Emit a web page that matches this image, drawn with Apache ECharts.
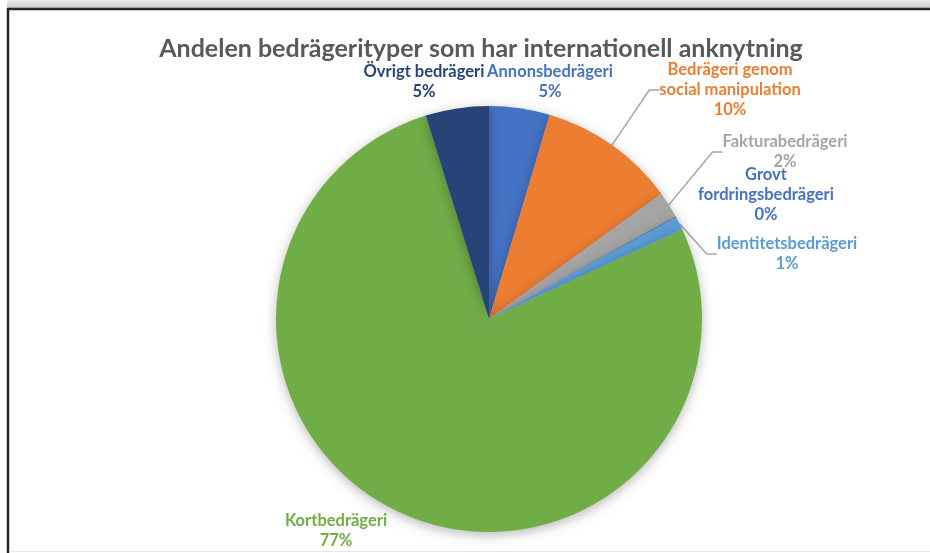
<!DOCTYPE html>
<html><head><meta charset="utf-8">
<script src="https://cdn.jsdelivr.net/npm/echarts@6/dist/echarts.min.js"></script>
<style>html,body{margin:0;padding:0;background:#fff}#c{width:930px;height:553px}</style>
</head><body><div id="c"></div>
<script>
const titleText = 'Andelen bedrägerityper som har internationell anknytning';
const categories = ['Annonsbedrägeri', 'Bedrägeri genom\nsocial manipulation', 'Fakturabedrägeri', 'Grovt\nfordringsbedrägeri', 'Identitetsbedrägeri', 'Kortbedrägeri', 'Övrigt bedrägeri'];
const values = [4.6, 10.4, 2.0, 0.1, 1.0, 77.1, 4.8];
const sliceColors = ['#4472C4', '#ED7D31', '#A5A5A5', '#4472C4', '#5B9BD5', '#70AD47', '#264478'];
const labelColors = ['#4472C4', '#ED7D31', '#A5A5A5', '#4472C4', '#5B9BD5', '#70AD47', '#264478'];
const showLeader = [false, true, true, false, true, false, false];
// label anchor positions (label placement only)
const labelPos = [[550, 82], [730, 90], [785, 152], [766, 195], [787, 254], [336, 531], [424, 82]];

const chart = echarts.init(document.getElementById('c'));
const data = categories.map((n, i) => ({
  name: n, value: values[i],
  itemStyle: { color: sliceColors[i] },
  label: { color: labelColors[i] },
  labelLine: { show: showLeader[i] }
}));
chart.setOption({
  backgroundColor: '#fff',
  animation: false,
  title: {
    text: titleText, left: 476, top: 31, textAlign: 'center',
    textStyle: { fontFamily: 'Lato', fontWeight: 'bold', fontSize: 25, color: '#595959' }
  },
  graphic: [
    { type: 'rect', shape: { x: 0, y: 0, width: 930, height: 9 }, silent: true,
      style: { fill: new echarts.graphic.LinearGradient(0, 0, 0, 1, [{ offset: 0, color: '#ececec' }, { offset: 1, color: '#c4c4c4' }]) } },
    { type: 'rect', shape: { x: 0, y: 0, width: 7, height: 553 }, silent: true, style: { fill: '#fff' } },
    { type: 'line', shape: { x1: 7, y1: 9, x2: 930, y2: 9 }, silent: true, style: { stroke: '#262626', lineWidth: 2.5 } },
    { type: 'line', shape: { x1: 8, y1: 8, x2: 8, y2: 553 }, silent: true, style: { stroke: '#262626', lineWidth: 2.5 } },
    { type: 'line', shape: { x1: 9, y1: 551.5, x2: 930, y2: 551.5 }, silent: true, style: { stroke: '#e6e6e6', lineWidth: 1 } }
  ],
  series: [{
    type: 'pie',
    center: [489, 319],
    radius: 213,
    startAngle: 90,
    clockwise: true,
    avoidLabelOverlap: false,
    data: data,
    itemStyle: { shadowBlur: 12, shadowColor: 'rgba(0,0,0,0.28)', shadowOffsetY: 3 },
    label: {
      show: true, position: 'outside',
      fontFamily: 'Lato', fontWeight: 'bold', fontSize: 16.5, lineHeight: 20,
      align: 'center',
      formatter: p => p.name + '\n' + Math.round(p.value) + '%'
    },
    labelLine: { show: true, length: 10, length2: 10, lineStyle: { color: '#A6A6A6', width: 1.5 } },
    labelLayout: p => ({ x: labelPos[p.dataIndex][0], y: labelPos[p.dataIndex][1], align: 'center', verticalAlign: 'middle' }),
    emphasis: { disabled: true }
  }]
});
</script></body></html>
